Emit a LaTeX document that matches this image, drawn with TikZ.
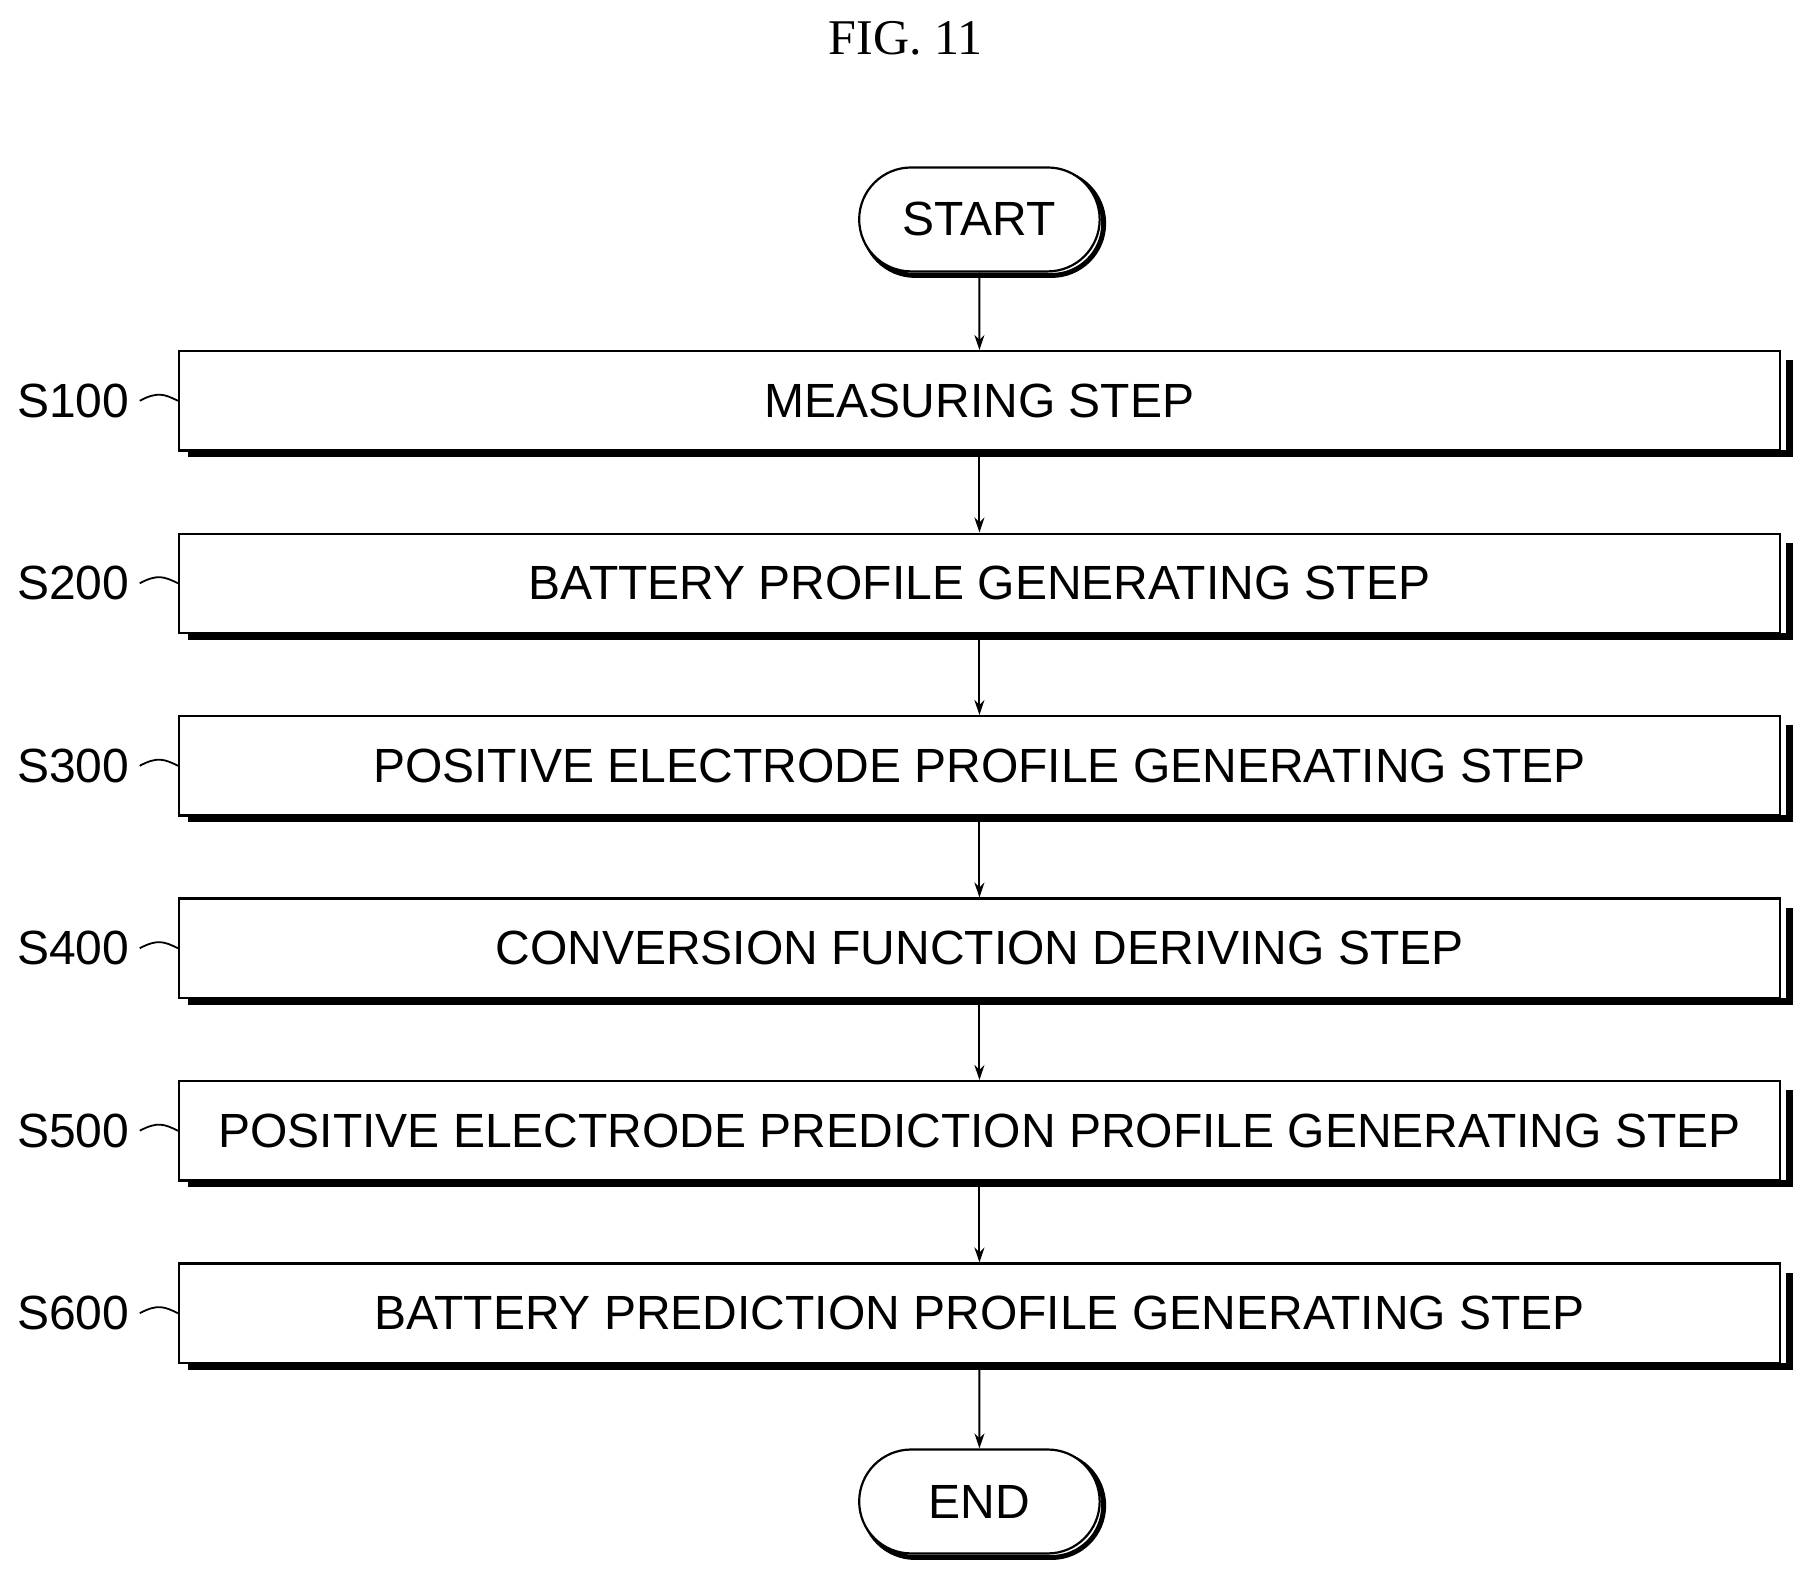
\documentclass[tikz,border=0pt]{standalone}
\usetikzlibrary{shapes.misc,arrows.meta}
\usepackage{fontspec}
\setmainfont{Liberation Sans}
\newfontfamily\serifx{Liberation Serif}
\begin{document}
\begin{tikzpicture}[x=1.155pt,y=-1.155pt,
  box/.style={draw,line width=2.2pt,fill=white,minimum width=1386*1.155pt,minimum height=86*1.155pt,inner sep=0pt,font=\fontsize{48}{52}\selectfont},
  term/.style={draw,line width=2.2pt,fill=white,rounded rectangle,minimum width=214*1.155pt,minimum height=90*1.155pt,font=\fontsize{48}{52}\selectfont},
  lab/.style={font=\fontsize{48}{52}\selectfont,anchor=east},
  arr/.style={-{Stealth[length=15pt,width=10pt]},line width=2pt},
  shd/.style={line width=7pt}]
\useasboundingbox (0,0) rectangle (1568,1370);
\node[font=\serifx\fontsize{50}{54}\selectfont] (title) at (784,33) {FIG. 11};
\foreach \i/\t/\y in {1/MEASURING STEP/347,2/BATTERY PROFILE GENERATING STEP/505,3/POSITIVE ELECTRODE PROFILE GENERATING STEP/663,4/CONVERSION FUNCTION DERIVING STEP/821,5/POSITIVE ELECTRODE PREDICTION PROFILE GENERATING STEP/979,6/BATTERY PREDICTION PROFILE GENERATING STEP/1137}{
  \draw[shd] (163,\y+46) -- (1549,\y+46) -- (1549,\y-35);
  \node[box] (b\i) at (848,\y) {\t};
  \node[lab] (l\i) at (115,\y) {S\i00};
  \draw[line width=1.8pt] (l\i.east) ++(6,0) coordinate (c\i) .. controls +(15,-8) and +(-12,-6) .. (b\i.west);
}
\node[term,line width=5pt,xshift=4pt,yshift=-4pt] (ss) at (848,190) {\phantom{START}};
\node[term] (start) at (848,190) {START};
\node[term,line width=5pt,xshift=4pt,yshift=-4pt] (es) at (848,1300) {\phantom{END}};
\node[term] (end) at (848,1300) {END};
\draw[arr] (start) -- (b1);
\draw[arr] (b1) -- (b2);
\draw[arr] (b2) -- (b3);
\draw[arr] (b3) -- (b4);
\draw[arr] (b4) -- (b5);
\draw[arr] (b5) -- (b6);
\draw[arr] (b6) -- (end);
\end{tikzpicture}
\end{document}
